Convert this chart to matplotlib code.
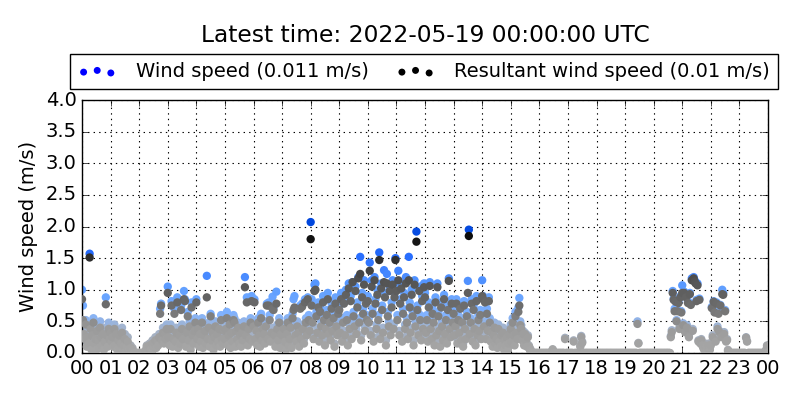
import numpy as np
import matplotlib
matplotlib.use('Agg')
import matplotlib.pyplot as plt
from matplotlib.colors import LinearSegmentedColormap

plt.style.use('classic')

title = 'Latest time: 2022-05-19 00:00:00 UTC'
label_wind = 'Wind speed (0.011 m/s)'
label_res = 'Resultant wind speed (0.01 m/s)'

# 2-minute samples, one row per hour (m/s); last row is 24:00
wind = [
    [1.00, 0.75, 0.42, 0.30, 0.52, 0.18, 0.35, 0.25, 1.57, 0.45, 0.12, 0.38, 0.55, 0.22, 0.30, 0.08, 0.42, 0.28, 0.15, 0.50, 0.33, 0.20, 0.40, 0.10, 0.26, 0.88, 0.35, 0.18, 0.48, 0.30],
    [0.40, 0.25, 0.32, 0.15, 0.45, 0.20, 0.38, 0.10, 0.28, 0.35, 0.12, 0.22, 0.40, 0.08, 0.18, 0.30, 0.05, 0.15, 0.25, 0.10, 0.05, 0.12, 0.00, 0.08, 0.00, 0.00, 0.00, 0.00, 0.00, 0.00],
    [0.00, 0.00, 0.00, 0.00, 0.00, 0.00, 0.00, 0.05, 0.12, 0.00, 0.10, 0.15, 0.08, 0.00, 0.20, 0.12, 0.18, 0.25, 0.10, 0.22, 0.15, 0.30, 0.70, 0.78, 0.25, 0.40, 0.18, 0.35, 0.28, 0.45],
    [1.05, 0.35, 0.20, 0.45, 0.82, 0.15, 0.30, 0.70, 0.25, 0.40, 0.88, 0.12, 0.35, 0.22, 0.75, 0.45, 0.30, 0.98, 0.85, 0.18, 0.40, 0.65, 0.28, 0.50, 0.10, 0.80, 0.35, 0.22, 0.42, 0.55],
    [0.85, 0.30, 0.45, 0.18, 0.38, 0.25, 0.55, 0.12, 0.35, 0.42, 0.22, 1.22, 0.30, 0.48, 0.15, 0.62, 0.28, 0.40, 0.10, 0.33, 0.50, 0.20, 0.38, 0.25, 0.45, 0.15, 0.60, 0.30, 0.22, 0.42],
    [0.30, 0.45, 0.65, 0.20, 0.35, 0.50, 0.12, 0.40, 0.25, 0.60, 0.55, 0.18, 0.42, 0.30, 0.48, 0.22, 0.35, 0.15, 0.40, 0.28, 0.50, 1.20, 0.35, 0.88, 0.20, 0.45, 0.30, 0.55, 0.90, 0.25],
    [0.50, 0.85, 0.30, 0.42, 0.20, 0.55, 0.35, 0.15, 0.62, 0.28, 0.45, 0.38, 0.22, 0.50, 0.78, 0.30, 0.80, 0.60, 0.25, 0.40, 0.89, 0.72, 0.35, 0.18, 0.97, 0.45, 0.28, 0.55, 0.12, 0.38],
    [0.35, 0.15, 0.45, 0.25, 0.08, 0.38, 0.55, 0.20, 0.30, 0.48, 0.12, 0.62, 0.85, 0.90, 0.35, 0.25, 0.50, 0.40, 0.18, 0.75, 0.30, 0.78, 0.45, 0.22, 0.85, 0.55, 0.35, 0.88, 0.60, 0.42],
    [2.07, 0.85, 0.55, 0.30, 1.08, 1.10, 0.65, 0.40, 0.80, 0.25, 0.72, 0.50, 0.35, 0.90, 0.60, 0.20, 0.45, 0.68, 0.95, 0.38, 0.55, 0.28, 0.78, 0.42, 0.62, 0.15, 0.88, 0.50, 0.35, 0.70],
    [0.75, 0.40, 0.95, 0.25, 0.55, 0.85, 0.35, 1.00, 0.60, 0.20, 1.10, 0.45, 0.90, 0.30, 1.12, 0.65, 0.50, 1.05, 0.38, 0.80, 1.20, 0.55, 1.52, 0.28, 0.95, 0.70, 1.15, 0.42, 0.85, 0.60],
    [0.90, 0.55, 1.43, 0.35, 1.15, 0.70, 0.25, 1.20, 0.85, 0.45, 1.00, 0.60, 1.59, 0.30, 1.10, 0.75, 0.40, 1.31, 0.95, 0.20, 1.25, 0.65, 0.50, 1.05, 0.35, 0.80, 1.15, 0.45, 0.95, 1.50],
    [1.05, 0.60, 1.30, 0.35, 0.85, 1.10, 0.25, 0.70, 0.95, 0.45, 1.20, 0.55, 0.30, 1.52, 0.80, 0.40, 1.00, 0.65, 0.20, 1.15, 0.50, 1.92, 0.75, 0.35, 1.05, 0.60, 0.28, 0.90, 0.45, 1.10],
    [0.95, 0.40, 0.60, 0.25, 0.80, 1.12, 0.45, 0.30, 0.70, 0.55, 0.20, 0.88, 0.35, 1.10, 0.65, 0.42, 0.18, 0.80, 0.50, 0.28, 0.92, 0.38, 0.60, 0.22, 0.75, 1.18, 0.45, 0.32, 0.85, 0.55],
    [0.70, 0.35, 0.50, 0.85, 0.22, 0.60, 0.40, 0.78, 0.28, 0.55, 0.15, 0.82, 0.45, 0.30, 0.65, 1.14, 1.95, 0.38, 0.55, 0.85, 0.25, 0.75, 0.45, 0.18, 0.90, 0.35, 0.60, 0.42, 0.68, 0.30],
    [1.15, 0.90, 0.50, 0.85, 0.30, 0.70, 0.42, 0.88, 0.55, 0.25, 0.40, 0.18, 0.35, 0.48, 0.22, 0.30, 0.12, 0.45, 0.25, 0.15, 0.35, 0.20, 0.40, 0.10, 0.28, 0.18, 0.32, 0.08, 0.22, 0.38],
    [0.45, 0.25, 0.55, 0.35, 0.20, 0.65, 0.40, 0.30, 0.72, 0.87, 0.50, 0.44, 0.28, 0.35, 0.18, 0.32, 0.25, 0.15, 0.28, 0.12, 0.08, 0.05, 0.00, 0.00, 0.00, 0.00, 0.00, 0.00, 0.00, 0.00],
    [0.00, 0.00, 0.00, 0.00, 0.00, 0.00, 0.00, 0.00, 0.00, 0.00, 0.00, 0.00, 0.00, 0.00, 0.06, 0.00, 0.00, 0.00, 0.00, 0.00, 0.00, 0.00, 0.00, 0.00, 0.00, 0.00, 0.00, 0.24, 0.00, 0.00],
    [0.00, 0.00, 0.00, 0.00, 0.00, 0.00, 0.20, 0.00, 0.00, 0.00, 0.00, 0.00, 0.00, 0.12, 0.27, 0.18, 0.00, 0.00, 0.00, 0.00, 0.00, 0.00, 0.00, 0.00, 0.00, 0.00, 0.00, 0.00, 0.00, 0.00],
    [0.00, 0.00, 0.00, 0.00, 0.00, 0.00, 0.00, 0.00, 0.00, 0.00, 0.00, 0.00, 0.00, 0.00, 0.00, 0.00, 0.00, 0.00, 0.00, 0.00, 0.00, 0.00, 0.00, 0.00, 0.00, 0.00, 0.00, 0.00, 0.00, 0.00],
    [0.00, 0.00, 0.00, 0.00, 0.00, 0.00, 0.00, 0.00, 0.00, 0.00, 0.00, 0.00, 0.00, 0.50, 0.16, 0.00, 0.00, 0.00, 0.00, 0.00, 0.00, 0.00, 0.00, 0.00, 0.00, 0.00, 0.00, 0.00, 0.00, 0.00],
    [0.00, 0.00, 0.00, 0.00, 0.00, 0.00, 0.00, 0.00, 0.00, 0.00, 0.00, 0.00, 0.00, 0.00, 0.00, 0.00, 0.00, 0.00, 0.27, 0.36, 0.98, 0.86, 0.70, 0.83, 0.52, 0.68, 0.81, 0.40, 0.90, 0.66],
    [1.07, 0.47, 0.97, 0.36, 0.90, 0.44, 0.82, 0.27, 0.95, 0.78, 1.18, 0.38, 1.20, 1.15, 1.12, 0.84, 1.10, 0.20, 0.86, 0.17, 0.22, 0.15, 0.10, 0.08, 0.15, 0.12, 0.05, 0.10, 0.15, 0.08],
    [0.15, 0.73, 0.28, 0.82, 0.66, 0.20, 0.80, 0.42, 0.64, 0.35, 0.76, 0.27, 1.00, 0.95, 0.33, 0.68, 0.20, 0.22, 0.05, 0.00, 0.00, 0.00, 0.00, 0.00, 0.00, 0.00, 0.00, 0.00, 0.00, 0.00],
    [0.00, 0.00, 0.00, 0.00, 0.00, 0.00, 0.00, 0.25, 0.19, 0.00, 0.00, 0.00, 0.00, 0.00, 0.00, 0.00, 0.00, 0.00, 0.00, 0.00, 0.00, 0.00, 0.00, 0.00, 0.00, 0.00, 0.00, 0.00, 0.05, 0.12],
    [0.011],
]

resultant = [
    [0.85, 0.52, 0.30, 0.22, 0.45, 0.10, 0.25, 0.15, 1.51, 0.38, 0.05, 0.28, 0.48, 0.15, 0.22, 0.05, 0.35, 0.20, 0.08, 0.40, 0.25, 0.12, 0.30, 0.05, 0.18, 0.77, 0.28, 0.10, 0.38, 0.22],
    [0.32, 0.18, 0.25, 0.10, 0.38, 0.12, 0.30, 0.05, 0.20, 0.28, 0.08, 0.15, 0.32, 0.05, 0.12, 0.22, 0.02, 0.10, 0.18, 0.05, 0.02, 0.08, 0.00, 0.05, 0.00, 0.00, 0.00, 0.00, 0.00, 0.00],
    [0.00, 0.00, 0.00, 0.00, 0.00, 0.00, 0.00, 0.02, 0.10, 0.00, 0.08, 0.12, 0.05, 0.00, 0.15, 0.10, 0.15, 0.20, 0.08, 0.18, 0.12, 0.25, 0.62, 0.75, 0.20, 0.32, 0.15, 0.30, 0.22, 0.38],
    [0.95, 0.25, 0.12, 0.38, 0.75, 0.10, 0.22, 0.62, 0.18, 0.32, 0.80, 0.08, 0.28, 0.15, 0.68, 0.38, 0.22, 0.85, 0.82, 0.10, 0.32, 0.58, 0.20, 0.42, 0.05, 0.72, 0.28, 0.15, 0.35, 0.48],
    [0.80, 0.22, 0.38, 0.10, 0.30, 0.18, 0.48, 0.08, 0.28, 0.35, 0.15, 0.88, 0.22, 0.40, 0.10, 0.58, 0.20, 0.32, 0.05, 0.25, 0.42, 0.12, 0.30, 0.18, 0.38, 0.10, 0.52, 0.22, 0.15, 0.35],
    [0.22, 0.38, 0.55, 0.12, 0.28, 0.45, 0.08, 0.32, 0.18, 0.52, 0.48, 0.10, 0.35, 0.22, 0.40, 0.15, 0.28, 0.10, 0.32, 0.20, 0.42, 1.04, 0.28, 0.80, 0.12, 0.38, 0.22, 0.48, 0.82, 0.18],
    [0.42, 0.80, 0.22, 0.35, 0.12, 0.48, 0.28, 0.10, 0.55, 0.20, 0.38, 0.30, 0.15, 0.42, 0.75, 0.22, 0.75, 0.52, 0.18, 0.32, 0.70, 0.68, 0.28, 0.10, 0.78, 0.38, 0.20, 0.48, 0.08, 0.30],
    [0.28, 0.08, 0.38, 0.18, 0.05, 0.30, 0.48, 0.12, 0.22, 0.40, 0.08, 0.55, 0.68, 0.72, 0.28, 0.18, 0.42, 0.32, 0.10, 0.70, 0.22, 0.73, 0.38, 0.15, 0.80, 0.48, 0.28, 0.85, 0.52, 0.35],
    [1.80, 0.75, 0.48, 0.22, 0.98, 1.00, 0.58, 0.32, 0.72, 0.18, 0.65, 0.42, 0.28, 0.80, 0.52, 0.12, 0.38, 0.60, 0.85, 0.30, 0.48, 0.20, 0.70, 0.35, 0.55, 0.10, 0.78, 0.42, 0.28, 0.62],
    [0.68, 0.32, 0.85, 0.18, 0.48, 0.78, 0.28, 0.92, 0.52, 0.12, 1.02, 0.38, 0.82, 0.22, 1.12, 0.58, 0.42, 0.98, 0.30, 0.72, 1.18, 0.48, 1.25, 0.20, 0.88, 0.62, 1.08, 0.35, 0.78, 0.52],
    [0.82, 0.48, 1.30, 0.28, 1.05, 0.62, 0.18, 1.15, 0.78, 0.38, 0.92, 0.52, 1.47, 0.22, 1.02, 0.68, 0.32, 1.12, 0.88, 0.12, 1.10, 0.58, 0.42, 0.98, 0.28, 0.72, 1.08, 0.38, 0.88, 1.47],
    [0.98, 0.52, 1.15, 0.28, 0.78, 1.02, 0.18, 0.62, 0.88, 0.38, 1.10, 0.48, 0.22, 1.15, 0.72, 0.32, 0.92, 0.58, 0.12, 1.08, 0.42, 1.76, 0.68, 0.28, 0.98, 0.52, 0.20, 0.82, 0.38, 1.04],
    [0.88, 0.32, 0.52, 0.18, 0.72, 1.06, 0.38, 0.22, 0.62, 0.48, 0.12, 0.80, 0.28, 1.04, 0.58, 0.35, 0.10, 0.72, 0.42, 0.20, 0.85, 0.30, 0.52, 0.15, 0.68, 1.14, 0.38, 0.25, 0.78, 0.48],
    [0.62, 0.28, 0.42, 0.78, 0.15, 0.52, 0.32, 0.70, 0.20, 0.48, 0.10, 0.75, 0.38, 0.22, 0.58, 0.95, 1.85, 0.30, 0.48, 0.78, 0.18, 0.68, 0.38, 0.12, 0.82, 0.28, 0.52, 0.35, 0.60, 0.22],
    [0.90, 0.85, 0.42, 0.80, 0.22, 0.62, 0.35, 0.82, 0.48, 0.18, 0.32, 0.10, 0.28, 0.40, 0.15, 0.22, 0.08, 0.38, 0.18, 0.10, 0.28, 0.12, 0.32, 0.05, 0.20, 0.12, 0.25, 0.05, 0.15, 0.30],
    [0.38, 0.18, 0.48, 0.28, 0.12, 0.58, 0.32, 0.22, 0.65, 0.75, 0.44, 0.38, 0.20, 0.30, 0.12, 0.30, 0.20, 0.10, 0.25, 0.10, 0.05, 0.02, 0.00, 0.00, 0.00, 0.00, 0.00, 0.00, 0.00, 0.00],
    [0.00, 0.00, 0.00, 0.00, 0.00, 0.00, 0.00, 0.00, 0.00, 0.00, 0.00, 0.00, 0.00, 0.00, 0.05, 0.00, 0.00, 0.00, 0.00, 0.00, 0.00, 0.00, 0.00, 0.00, 0.00, 0.00, 0.00, 0.22, 0.00, 0.00],
    [0.00, 0.00, 0.00, 0.00, 0.00, 0.00, 0.18, 0.00, 0.00, 0.00, 0.00, 0.00, 0.00, 0.10, 0.25, 0.16, 0.00, 0.00, 0.00, 0.00, 0.00, 0.00, 0.00, 0.00, 0.00, 0.00, 0.00, 0.00, 0.00, 0.00],
    [0.00, 0.00, 0.00, 0.00, 0.00, 0.00, 0.00, 0.00, 0.00, 0.00, 0.00, 0.00, 0.00, 0.00, 0.00, 0.00, 0.00, 0.00, 0.00, 0.00, 0.00, 0.00, 0.00, 0.00, 0.00, 0.00, 0.00, 0.00, 0.00, 0.00],
    [0.00, 0.00, 0.00, 0.00, 0.00, 0.00, 0.00, 0.00, 0.00, 0.00, 0.00, 0.00, 0.00, 0.46, 0.15, 0.00, 0.00, 0.00, 0.00, 0.00, 0.00, 0.00, 0.00, 0.00, 0.00, 0.00, 0.00, 0.00, 0.00, 0.00],
    [0.00, 0.00, 0.00, 0.00, 0.00, 0.00, 0.00, 0.00, 0.00, 0.00, 0.00, 0.00, 0.00, 0.00, 0.00, 0.00, 0.00, 0.00, 0.25, 0.33, 0.95, 0.84, 0.66, 0.81, 0.50, 0.66, 0.79, 0.38, 0.88, 0.64],
    [0.95, 0.44, 0.95, 0.33, 0.88, 0.40, 0.79, 0.25, 0.93, 0.76, 1.15, 0.35, 1.18, 1.13, 1.10, 0.82, 1.07, 0.18, 0.84, 0.15, 0.20, 0.12, 0.08, 0.05, 0.12, 0.10, 0.03, 0.08, 0.12, 0.05],
    [0.12, 0.71, 0.25, 0.81, 0.64, 0.18, 0.78, 0.38, 0.62, 0.33, 0.75, 0.25, 0.93, 0.92, 0.30, 0.66, 0.18, 0.20, 0.03, 0.00, 0.00, 0.00, 0.00, 0.00, 0.00, 0.00, 0.00, 0.00, 0.00, 0.00],
    [0.00, 0.00, 0.00, 0.00, 0.00, 0.00, 0.00, 0.24, 0.18, 0.00, 0.00, 0.00, 0.00, 0.00, 0.00, 0.00, 0.00, 0.00, 0.00, 0.00, 0.00, 0.00, 0.00, 0.00, 0.00, 0.00, 0.00, 0.00, 0.04, 0.11],
    [0.01],
]

ws = np.concatenate([np.array(r) for r in wind])
rs = np.concatenate([np.array(r) for r in resultant])
hours = np.arange(len(ws)) * 2 / 60.0

wind_cmap = LinearSegmentedColormap.from_list('wind', [
    (0.0, '#a8a8a8'), (0.2, '#a2b4d0'), (0.3, '#80b2ff'),
    (0.5, '#609fff'), (0.75, '#2a70ff'), (1.0, '#0046dd')])
res_cmap = LinearSegmentedColormap.from_list('res', [
    (0.0, '#a8a8a8'), (0.2, '#9a9a9a'), (0.3, '#7c7c7c'),
    (0.4, '#686868'), (0.55, '#555555'), (0.75, '#2e2e2e'),
    (1.0, '#000000')])

fig = plt.figure(figsize=(8, 4), dpi=100)
ax = fig.add_axes([0.1025, 0.1175, 0.8575, 0.6325])

ax.scatter(hours, ws, c=ws, cmap=wind_cmap, vmin=0, vmax=2,
           s=36, edgecolors='none', zorder=2)
ax.scatter(hours, rs, c=rs, cmap=res_cmap, vmin=0, vmax=2,
           s=36, edgecolors='none', zorder=3)

ax.set_xlim(0, 24)
ax.set_ylim(0, 4)
ax.set_xticks(range(25))
ax.set_xticklabels(['%02d' % (h % 24) for h in range(25)], fontsize=14)
ax.set_yticks(np.arange(0, 4.01, 0.5))
ax.set_yticklabels(['%.1f' % v for v in np.arange(0, 4.01, 0.5)], fontsize=14)
ax.set_ylabel('Wind speed (m/s)', fontsize=14)
ax.grid(True, color='black', linestyle=':', linewidth=0.8)
ax.set_axisbelow(True)

h1 = ax.scatter([], [], color='b', s=25, edgecolors='none')
h2 = ax.scatter([], [], color='k', s=25, edgecolors='none')
ax.legend([h1, h2], [label_wind, label_res], ncol=2, loc='lower left',
          bbox_to_anchor=(-0.0175, 1.0435, 1.032, 0.1265), mode='expand',
          borderaxespad=0, fontsize=14, scatterpoints=3, handletextpad=1.0)

fig.text(0.53125, 0.912, title, ha='center', va='center', fontsize=16.8)

fig.savefig('out.png', dpi=100)
